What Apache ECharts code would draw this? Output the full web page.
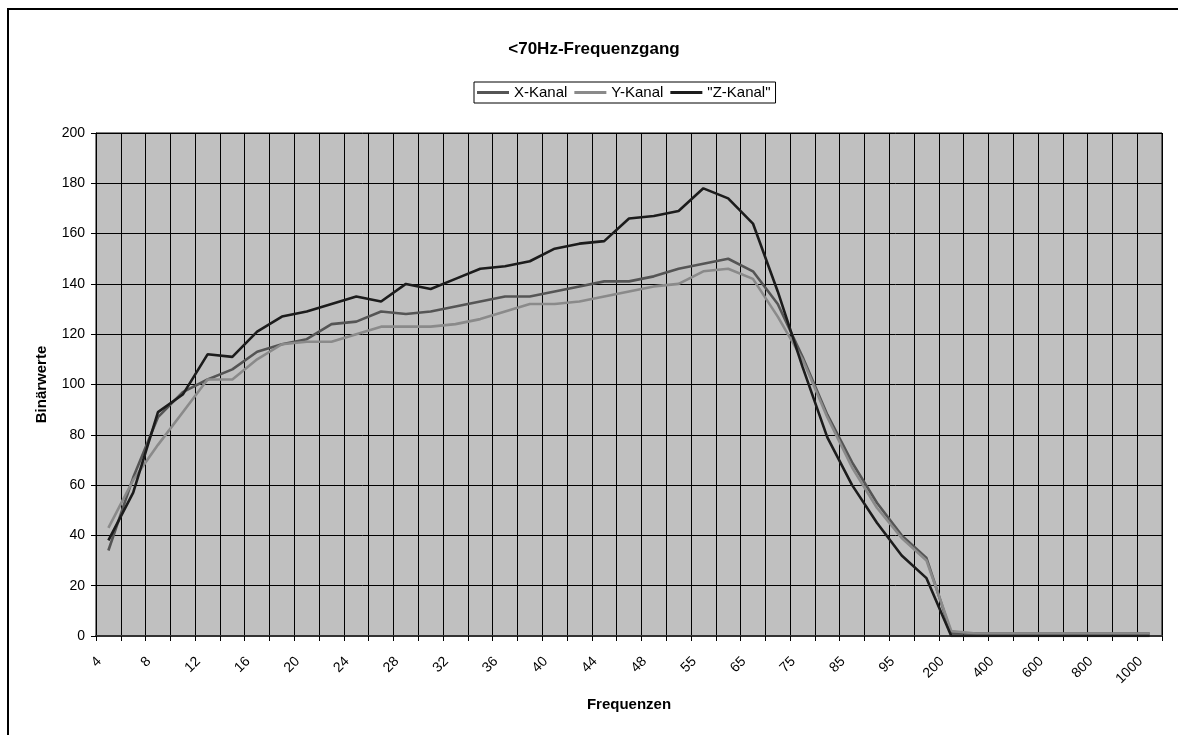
<!DOCTYPE html>
<html>
<head>
<meta charset="utf-8">
<script src="https://cdn.jsdelivr.net/npm/echarts@6/dist/echarts.min.js"></script>
<style>
html,body{margin:0;padding:0;background:#fff;}
#chart{width:1178px;height:735px;}
</style>
</head>
<body>
<div id="chart"></div>
<script>
// ---- data ----
const categories = ['4','6','8','10','12','14','16','18','20','22','24','26','28','30','32','34','36','38','40','42','44','46','48','50','55','60','65','70','75','80','85','90','95','100','200','300','400','500','600','700','800','900','1000'];
const xKanal = [34,63,87,97,102,106,113,116,118,124,125,129,128,129,131,133,135,135,137,139,141,141,143,146,148,150,145,132,111,88,69,53,40,31,1,1,1,1,1,1,1,1,1];
const yKanal = [43,62,76,89,102,102,110,116,117,117,120,123,123,123,124,126,129,132,132,133,135,137,139,140,145,146,142,127,110,87,67,51,39,30,2,1,1,1,1,1,1,1,1];
const zKanal = [38,57,89,96,112,111,121,127,129,132,135,133,140,138,142,146,147,149,154,156,157,166,167,169,178,174,164,137,107,79,60,45,32,23,0,0,0,0,0,0,0,0,0];
const seriesNames = ['X-Kanal','Y-Kanal','"Z-Kanal"'];
const yMin = 0, yMax = 200, yStep = 20;

const FONT = '"Liberation Sans", Arial, Helvetica, sans-serif';
const colors = ['#555555', '#8a8a8a', '#1c1c1c'];

const chart = echarts.init(document.getElementById('chart'), null, {renderer: 'canvas'});

const option = {
  animation: false,
  backgroundColor: '#ffffff',
  textStyle: {fontFamily: FONT, color: '#000'},
  title: {
    text: '<70Hz-Frequenzgang',
    left: 594,
    textAlign: 'center',
    top: 41,
    padding: 0,
    textStyle: {fontFamily: FONT, fontSize: 17, fontWeight: 'bold', color: '#000'}
  },
  legend: {
    data: seriesNames,
    left: 474,
    top: 82,
    padding: [3, 5, 3, 3],
    itemGap: 7,
    itemWidth: 32,
    itemHeight: 3,
    icon: 'rect',
    borderColor: '#000',
    borderWidth: 1,
    textStyle: {fontFamily: FONT, fontSize: 15, color: '#000'}
  },
  grid: {
    left: 96,
    right: 16,
    top: 133,
    bottom: 99,
    show: true,
    backgroundColor: '#c0c0c0',
    borderColor: '#000',
    borderWidth: 1,
    containLabel: false
  },
  xAxis: {
    type: 'category',
    data: categories,
    boundaryGap: true,
    name: 'Frequenzen',
    nameLocation: 'middle',
    nameGap: 61,
    nameTextStyle: {fontFamily: FONT, fontSize: 15, fontWeight: 'bold', color: '#000'},
    axisLine: {show: true, lineStyle: {color: '#333', width: 2}},
    axisTick: {show: true, interval: 0, length: 5, lineStyle: {color: '#000'}},
    axisLabel: {interval: 1, rotate: 45, margin: 14, padding: [0, 13, 0, 0], fontFamily: FONT, fontSize: 14, color: '#000'},
    splitLine: {show: true, interval: 0, lineStyle: {color: '#000', width: 1}}
  },
  yAxis: {
    type: 'value',
    min: yMin,
    max: yMax,
    interval: yStep,
    name: 'Binärwerte',
    nameLocation: 'middle',
    nameGap: 47,
    nameTextStyle: {fontFamily: FONT, fontSize: 15, fontWeight: 'bold', color: '#000'},
    axisLine: {show: true, lineStyle: {color: '#000', width: 1}},
    axisTick: {show: true, length: 5, lineStyle: {color: '#000'}},
    axisLabel: {margin: 11, fontFamily: FONT, fontSize: 14, color: '#000'},
    splitLine: {show: true, lineStyle: {color: '#000', width: 1}}
  },
  graphic: [{
    type: 'rect',
    shape: {x: 8, y: 9, width: 2000, height: 2000},
    style: {fill: 'none', stroke: '#000', lineWidth: 2},
    silent: true,
    z: 100
  }],
  series: [
    {name: seriesNames[0], type: 'line', data: xKanal, symbol: 'none', color: colors[0], lineStyle: {color: colors[0], width: 2.6}},
    {name: seriesNames[1], type: 'line', data: yKanal, symbol: 'none', color: colors[1], lineStyle: {color: colors[1], width: 2.6}},
    {name: seriesNames[2], type: 'line', data: zKanal, symbol: 'none', color: colors[2], lineStyle: {color: colors[2], width: 2.6}}
  ]
};
chart.setOption(option);
</script>
</body>
</html>
